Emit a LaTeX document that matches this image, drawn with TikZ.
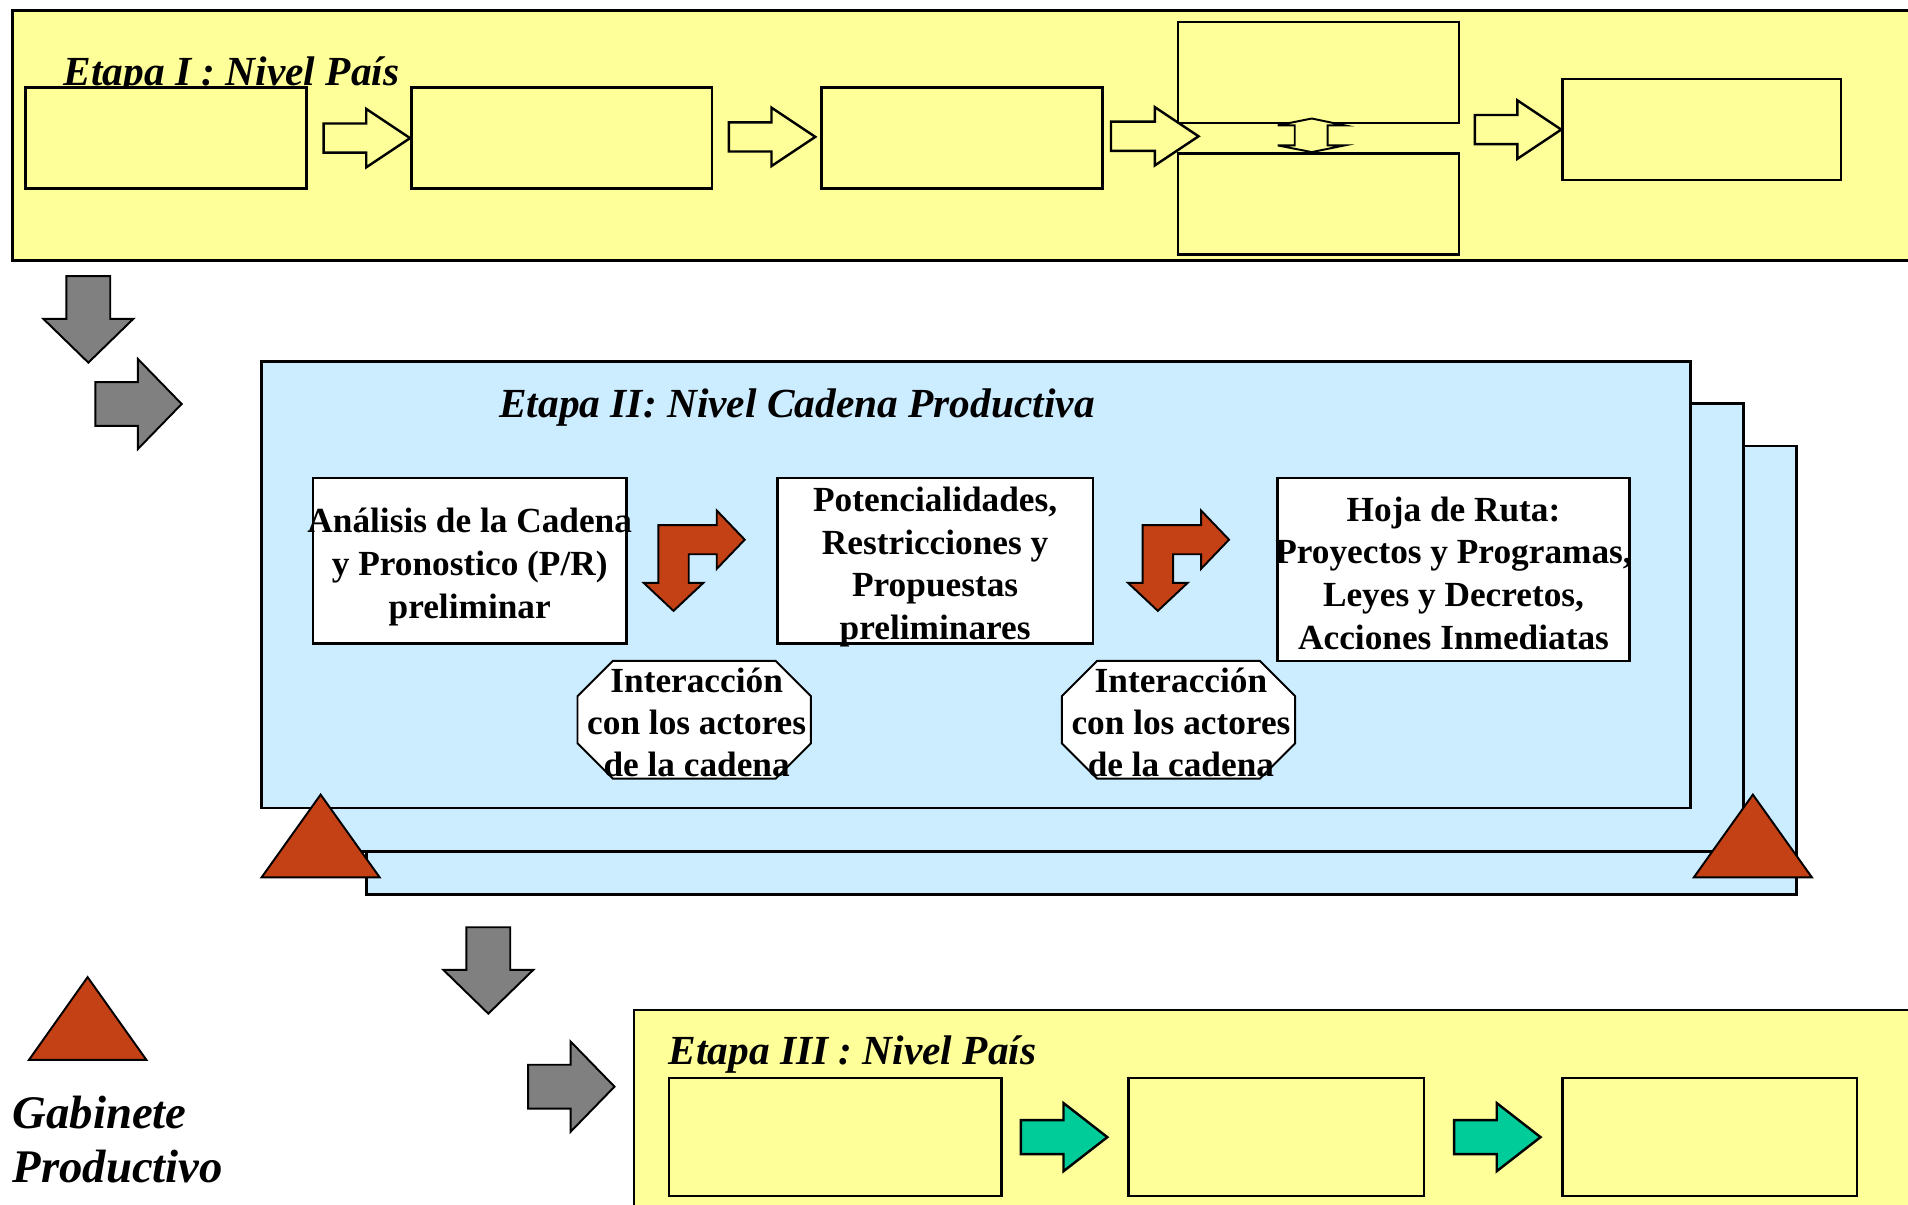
\documentclass[tikz,border=0pt]{standalone}
\usepackage{fontspec}
\setmainfont{Liberation Serif}
\usetikzlibrary{fit,calc}
\definecolor{ylw}{HTML}{FFFF99}
\definecolor{lblue}{HTML}{CCECFF}
\definecolor{garr}{HTML}{808080}
\definecolor{rust}{HTML}{C34114}
\definecolor{grn}{HTML}{00CC99}
% right block arrow: style, tip, total length, head length, head half width, shaft half width
\newcommand\rblk[6]{\draw[#1] #2 -- ++(-#4,-#5) -- ++(0,#5-#6) -- ++(#4-#3,0) -- ++(0,2*#6) -- ++(#3-#4,0) -- ++(0,#5-#6) -- cycle;}
% down block arrow
\newcommand\dblk[6]{\draw[#1] #2 -- ++(-#5,-#4) -- ++(#5-#6,0) -- ++(0,#4-#3) -- ++(2*#6,0) -- ++(0,#3-#4) -- ++(#5-#6,0) -- cycle;}
\tikzset{
  ypanel/.style={draw, line width=1.2pt, fill=ylw, inner sep=0pt},
  bpanel/.style={draw, line width=1.2pt, fill=lblue, inner sep=0pt},
  ybox/.style={draw, line width=1pt, fill=ylw, inner sep=0pt},
  wbox/.style={draw, line width=1pt, fill=white, inner sep=0pt},
  octo/.style={draw, line width=0.8pt, fill=white, line join=miter},
  btxt/.style={font=\bfseries\fontsize{14.5}{17.5}\selectfont, align=center, inner sep=0pt},
  ttl/.style={font=\bfseries\itshape\fontsize{17}{20}\selectfont, inner sep=0pt, anchor=base west},
  gtxt/.style={font=\bfseries\itshape\fontsize{19.2}{23}\selectfont, inner sep=0pt, anchor=base west},
  yarr/.style={draw, line width=1pt, fill=ylw, line join=miter},
  garrow/.style={draw, line width=0.8pt, fill=garr, line join=miter},
  grarr/.style={draw, line width=1pt, fill=grn, line join=miter},
  rarr/.style={draw, line width=0.8pt, fill=rust, line join=miter},
  tri/.style={draw, line width=0.8pt, fill=rust, line join=miter},
}
\begin{document}
\begin{tikzpicture}[x=0.5pt,y=-0.5pt]
\useasboundingbox (0,0) rectangle (1568,990);
\clip (0,0) rectangle (1568,990);
\fill[white] (0,0) rectangle (1568,990);
% ---------------- Etapa I
\node[ypanel, fit={(10,9) (1590,214)}] (p1) {};
\node[ttl] (t1) at (52,70) {Etapa I : Nivel País};
\node[ybox, fit={(21,72) (252,155)}] (b1) {};
\node[ybox, fit={(338,72) (585,155)}] (b2) {};
\node[ybox, fit={(675,72) (906,155)}] (b3) {};
\node[ybox, fit={(968,18) (1199,101)}] (b4) {};
\node[ybox, fit={(968,126) (1199,209)}] (b5) {};
\node[ybox, fit={(1284,65) (1513,148)}] (b6) {};
\coordinate (a3tip) at (985,112);
\rblk{yarr}{(b2.west)}{71}{36}{24}{12}
\rblk{yarr}{($(b3.west)+(-4,-1)$)}{71}{36}{24}{12}
\rblk{yarr}{(a3tip)}{72}{36}{24}{12}
\rblk{yarr}{(b6.west)}{71}{36}{24}{12}
% up-down arrow between b4 and b5
\draw[yarr, line width=0.8pt] (1078,97.4) -- (1105,103) -- (1091,103) -- (1091,119.5) -- (1105,119.5)
  -- (1078,125) -- (1050,119.5) -- (1064,119.5) -- (1064,103) -- (1050,103) -- cycle;
% gray arrows left
\dblk{garrow}{(72.6,298)}{71}{36}{37}{18}
\rblk{garrow}{(149.3,332)}{71}{36}{37}{18}
% ---------------- Etapa II
\node[bpanel, fit={(301,366.5) (1476,735)}] (p2c) {};
\node[bpanel, fit={(257,331.5) (1433,699.5)}] (p2b) {};
\node[bpanel, fit={(215,297) (1389,664)}] (p2) {};
\node[ttl] (t2) at (410,343) {Etapa II: Nivel Cadena Productiva};
\node[wbox, fit={(257,393) (515,529)}] (w1) {};
\node[wbox, fit={(639,393) (898,529)}] (w2) {};
\node[wbox, fit={(1050,393) (1339,543)}] (w3) {};
\node[btxt] (w1t) at ($(w1.center)+(0,5)$) {Análisis de la Cadena\\y Pronostico (P/R)\\preliminar};
\node[btxt] (w2t) at ($(w2.center)+(0,5)$) {Potencialidades,\\Restricciones y\\Propuestas\\preliminares};
\node[btxt] (w3t) at ($(w3.center)+(0,3)$) {Hoja de Ruta:\\Proyectos y Programas,\\Leyes y Decretos,\\Acciones Inmediatas};
% bent arrows
\draw[rarr] (541,431.5) -- (589,431.5) -- (589,419.5) -- (612,443.5) -- (589,467.5) -- (589,455.5)
  -- (566,455.5) -- (566,479) -- (578,479) -- (553.5,502) -- (529,479) -- (541,479) -- cycle;
\begin{scope}[shift={(398,0)}]
\draw[rarr] (541,431.5) -- (589,431.5) -- (589,419.5) -- (612,443.5) -- (589,467.5) -- (589,455.5)
  -- (566,455.5) -- (566,479) -- (578,479) -- (553.5,502) -- (529,479) -- (541,479) -- cycle;
\end{scope}
% octagons
\node[inner sep=0pt, fit={(475,543.5) (666,639.5)}] (o1) {};
\node[inner sep=0pt, fit={(873,543.5) (1064,639.5)}] (o2) {};
\foreach \o in {o1,o2}{
  \draw[octo] ($(\o.north west)+(29,0)$) -- ($(\o.north east)+(-29,0)$) -- ($(\o.north east)+(0,29)$)
    -- ($(\o.south east)+(0,-29)$) -- ($(\o.south east)+(-29,0)$) -- ($(\o.south west)+(29,0)$)
    -- ($(\o.south west)+(0,-29)$) -- ($(\o.north west)+(0,29)$) -- cycle;
}
\node[btxt, font=\bfseries\fontsize{14.5}{17.25}\selectfont] (o1t) at ($(o1.center)+(2,2)$) {Interacción\\con los actores\\de la cadena};
\node[btxt, font=\bfseries\fontsize{14.5}{17.25}\selectfont] (o2t) at ($(o2.center)+(2,2)$) {Interacción\\con los actores\\de la cadena};
% triangles
\draw[tri] (215,721) -- (312,721) -- (263.5,653) -- cycle;
\draw[tri] (1392,721) -- (1489,721) -- (1440.5,653) -- cycle;
% gray arrows middle
\dblk{garrow}{(401.3,833)}{71}{36}{37}{18}
\rblk{garrow}{(505,893)}{71}{36}{37}{18}
% ---------------- Etapa III
\node[ypanel, fit={(521,830) (1590,1010)}] (p3) {};
\node[ttl] (t3) at (549,875) {Etapa III : Nivel País};
\node[ybox, fit={(550,886) (823,983)}] (c1) {};
\node[ybox, fit={(927.5,886) (1170,983)}] (c2) {};
\node[ybox, fit={(1284,886) (1526,983)}] (c3) {};
\rblk{grarr}{($(c2.west)+(-16.5,0)$)}{71}{36}{28}{14}
\rblk{grarr}{($(c3.west)+(-17,0)$)}{71}{36}{28}{14}
% ---------------- legend
\draw[tri] (23.8,871) -- (120.3,871) -- (72,803) -- cycle;
\node[gtxt] (g1) at (10,927) {Gabinete};
\node[gtxt] (g2) at (10,972) {Productivo};
\end{tikzpicture}
\end{document}
